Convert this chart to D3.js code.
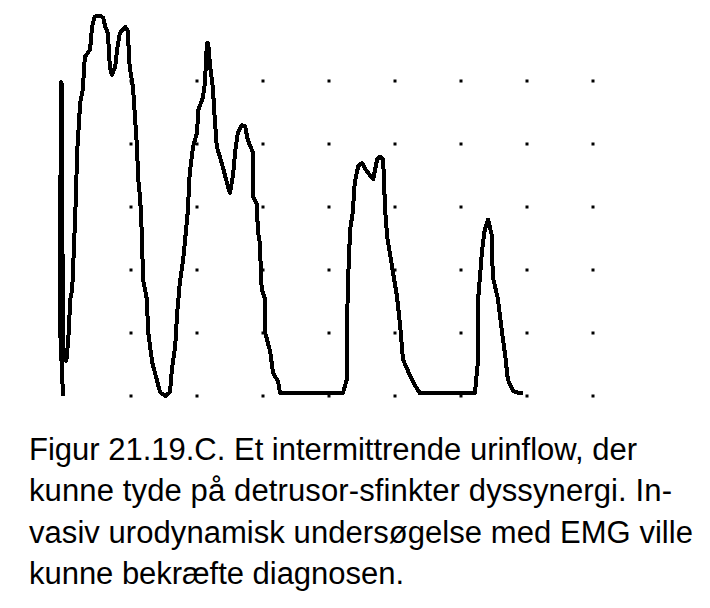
<!DOCTYPE html>
<html>
<head>
<meta charset="utf-8">
<script src="https://cdn.jsdelivr.net/npm/d3@7"></script>
<style>
  html, body { margin: 0; padding: 0; background: #fff; }
  svg { display: block; }
</style>
</head>
<body>
<svg id="chart" width="710" height="608"></svg>
<script>
// Time in seconds (one grid column = 10 s), flow in ml/s (one grid row = 5 ml/s)
const timeSec = [-0.3,-0.8,-0.6,-0.5,-0.3,0.2,0.5,0.8,1.1,1.4,1.7,1.8,2.3,2.7,3.0,3.8,4.1,4.5,5.3,5.8,6.1,6.5,6.8,7.1,7.6,7.9,8.3,9.1,9.5,9.8,10.3,10.6,10.9,11.1,11.4,11.7,11.8,12.4,12.6,13.2,13.9,14.4,15.2,15.9,16.2,16.7,17.0,17.4,17.9,18.2,18.6,18.9,19.4,20.0,20.2,20.9,21.2,21.5,21.7,22.0,22.4,22.7,23.0,23.9,24.7,25.0,25.5,25.8,26.2,26.8,27.3,27.7,28.5,28.5,29.1,29.2,29.5,29.8,30.3,30.3,31.1,31.5,32.3,32.6,42.1,42.7,42.7,42.9,43.2,43.6,43.9,44.4,45.0,45.5,46.7,47.3,47.7,48.2,48.5,48.8,49.7,50.3,50.8,51.2,52.3,53.3,53.8,62.1,62.6,62.6,63.2,63.6,64.1,64.7,64.8,65.6,66.2,66.7,67.1,67.9,68.9,69.4];
const flowMlS = [0,6.1,24.9,24.8,2.9,2.8,4.5,7.7,8.5,12.4,16.4,19.0,23.3,24.3,26.9,27.5,29.3,30.1,30.2,30.0,29.3,28.8,26.1,25.5,26.1,27.5,28.8,29.3,29.0,26.1,24.5,22.2,19.8,17.2,15.6,12.2,9.3,7.7,5.1,2.7,1.3,0.3,0,0.3,2.1,4.0,6.6,9.0,10.8,12.4,14.6,17.7,19.8,20.9,22.7,23.7,24.8,28.0,28.0,26.1,24.5,21.9,19.8,18.2,16.6,16.1,17.7,19.5,20.9,21.5,21.4,20.3,19.3,15.8,15.2,13.2,12.2,8.5,7.7,5.1,3.5,1.9,1.1,0.2,0.2,1.3,5.1,9.3,13.2,14.6,16.9,18.2,18.5,18.0,17.2,18.8,19.0,18.8,14.8,12.7,9.8,7.9,5.5,2.9,1.6,0.6,0.2,0.2,2.9,7.7,11.6,13.2,14.0,12.7,9.5,7.7,5.1,3.2,1.3,0.4,0.2,0.2];

const gridTimes = [10,20,30,40,50,60,70,80];
const gridFlows = [0,5,10,15,20,25];

const captionLines = [
  "Figur 21.19.C. Et intermittrende urinflow, der",
  "kunne tyde på detrusor-sfinkter dyssynergi. In-",
  "vasiv urodynamisk undersøgelse med EMG ville",
  "kunne bekræfte diagnosen."
];

const svg = d3.select("#chart");

const x = d3.scaleLinear().domain([0, 80]).range([65, 593]);
const y = d3.scaleLinear().domain([0, 25]).range([396, 81]);

// grid dots
const gridPts = [];
gridTimes.forEach(t => gridFlows.forEach(f => gridPts.push({t, f})));
svg.append("g").selectAll("rect").data(gridPts).join("rect")
  .attr("x", d => Math.round(x(d.t)) - 1.5)
  .attr("y", d => Math.round(y(d.f)) - 1.5)
  .attr("width", 3).attr("height", 3)
  .attr("fill", "#000");

// flow curve
const pts = timeSec.map((t, i) => [t, flowMlS[i]]);
const line = d3.line().x(d => x(d[0])).y(d => y(d[1]));
svg.append("path")
  .datum(pts)
  .attr("d", line)
  .attr("fill", "none")
  .attr("stroke", "#000")
  .attr("stroke-width", 4)
  .attr("stroke-linejoin", "round")
  .attr("stroke-linecap", "butt")
  .attr("shape-rendering", "crispEdges");

// caption
const capLens = [608, 643, 664, 375];
const capY = [460, 501, 543, 584];
svg.append("g").selectAll("text").data(captionLines).join("text")
  .attr("x", 29)
  .attr("y", (d, i) => capY[i])
  .attr("textLength", (d, i) => capLens[i])
  .attr("lengthAdjust", "spacing")
  .attr("font-family", "'Liberation Sans Narrow', 'Liberation Sans', Arial, sans-serif")
  .attr("font-size", 31)
  .attr("fill", "#000")
  .text(d => d);
</script>
</body>
</html>
